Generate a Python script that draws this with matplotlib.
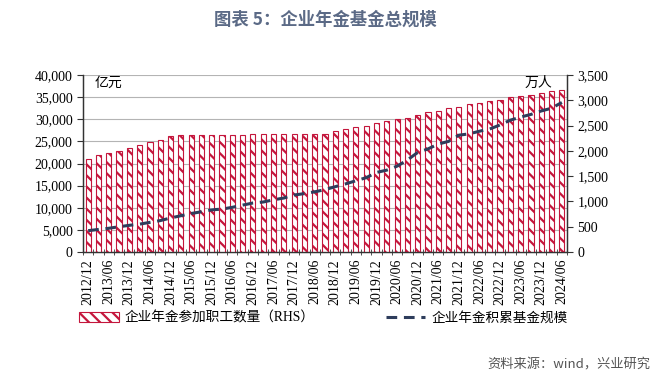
import matplotlib.pyplot as plt
import numpy as np

plt.rcParams['font.family'] = ['Liberation Serif', 'Noto Sans CJK SC', 'DejaVu Sans']
plt.rcParams['hatch.linewidth'] = 1.6

quarters = ["2012/12", "2013/03", "2013/06", "2013/09", "2013/12", "2014/03", "2014/06", "2014/09",
            "2014/12", "2015/03", "2015/06", "2015/09", "2015/12", "2016/03", "2016/06", "2016/09",
            "2016/12", "2017/03", "2017/06", "2017/09", "2017/12", "2018/03", "2018/06", "2018/09",
            "2018/12", "2019/03", "2019/06", "2019/09", "2019/12", "2020/03", "2020/06", "2020/09",
            "2020/12", "2021/03", "2021/06", "2021/09", "2021/12", "2022/03", "2022/06", "2022/09",
            "2022/12", "2023/03", "2023/06", "2023/09", "2023/12", "2024/03", "2024/06"]

# 企业年金参加职工数量 (万人, RHS)
workers = [1847, 1926, 1953, 1992, 2056, 2111, 2171, 2211,
           2293, 2310, 2315, 2316, 2316, 2318, 2320, 2322,
           2325, 2325, 2326, 2327, 2331, 2330, 2335, 2342,
           2388, 2437, 2464, 2501, 2548, 2600, 2623, 2659,
           2718, 2771, 2798, 2838, 2875, 2920, 2955, 2983,
           3010, 3056, 3083, 3096, 3144, 3182, 3202]

# 企业年金积累基金规模 (亿元, LHS)
fund = [4821, 5100, 5366, 5710, 6035, 6300, 6700, 7100,
        7689, 8200, 8700, 9100, 9526, 9700, 10100, 10600,
        11075, 11300, 11800, 12200, 12880, 13200, 13600, 14100,
        14770, 15400, 16100, 16800, 17985, 18500, 19400, 20800,
        22497, 23300, 24400, 25000, 26406, 26700, 27300, 27800,
        28718, 29800, 30500, 31100, 31875, 32500, 33800]

red = "#C4163C"
navy = "#2E3D5C"

fig = plt.figure(figsize=(6.71, 3.8), dpi=100)
ax = fig.add_axes([0.1237, 0.3368, 0.7213, 0.4658])
ax2 = ax.twinx()

x = np.arange(len(quarters))

ax.set_xlim(-0.5, len(quarters) - 0.5)
ax.set_ylim(0, 40000)
ax2.set_ylim(0, 3500)

ax.set_yticks(np.arange(0, 40001, 5000))
ax.set_yticklabels([f"{v:,}" for v in range(0, 40001, 5000)])
ax2.set_yticks(np.arange(0, 3501, 500))
ax2.set_yticklabels([f"{v:,}" for v in range(0, 3501, 500)])
ax.grid(axis="y", color="#B4B4B4", linewidth=0.8)
ax.set_axisbelow(True)

bars = ax2.bar(x, workers, width=0.5, facecolor="white", edgecolor=red,
               hatch="\\\\\\", linewidth=0.8)
# line on top of the bars, in left-axis units
line, = ax2.plot(x, fund, color=navy, linewidth=2.2, linestyle=(0, (3.5, 2.2)),
                 transform=ax.transData)

ax.set_xticks(x[::2])
ax.set_xticklabels(quarters[::2], rotation=90)
ax.set_xticks(np.arange(-0.5, len(quarters), 1), minor=True)
ax.tick_params(axis="x", which="major", length=0, pad=5, labelsize=10)
ax.tick_params(axis="x", which="minor", length=4, direction="inout", color="#333333")
ax.tick_params(axis="y", length=4, labelsize=10, color="#333333")
ax2.tick_params(axis="y", length=4, labelsize=10, color="#333333")

for a in (ax, ax2):
    a.spines["top"].set_visible(False)
    for s in ("left", "right", "bottom"):
        a.spines[s].set_color("#333333")
        a.spines[s].set_linewidth(0.9)

ax.text(0.025, 0.955, "亿元", transform=ax.transAxes, fontsize=10, va="center")
ax.text(0.913, 0.955, "万人", transform=ax.transAxes, fontsize=10, va="center")

fig.legend([bars, line], ["企业年金参加职工数量（RHS）", "企业年金积累基金规模"],
           loc="center left", bbox_to_anchor=(0.1, 0.163), ncol=2, frameon=False,
           fontsize=9.8, handlelength=2.9, handletextpad=0.45, columnspacing=5.2)

fig.text(0.485, 0.948, "图表 5：企业年金基金总规模", ha="center", va="center",
         fontsize=12.5, fontweight="bold", color="#5B6A86", family="Noto Sans CJK SC")
fig.text(0.969, 0.04, "资料来源：wind，兴业研究", ha="right", va="center",
         fontsize=9.5, color="#555555", family="Noto Sans CJK SC")

fig.savefig("out.png", dpi=100)
